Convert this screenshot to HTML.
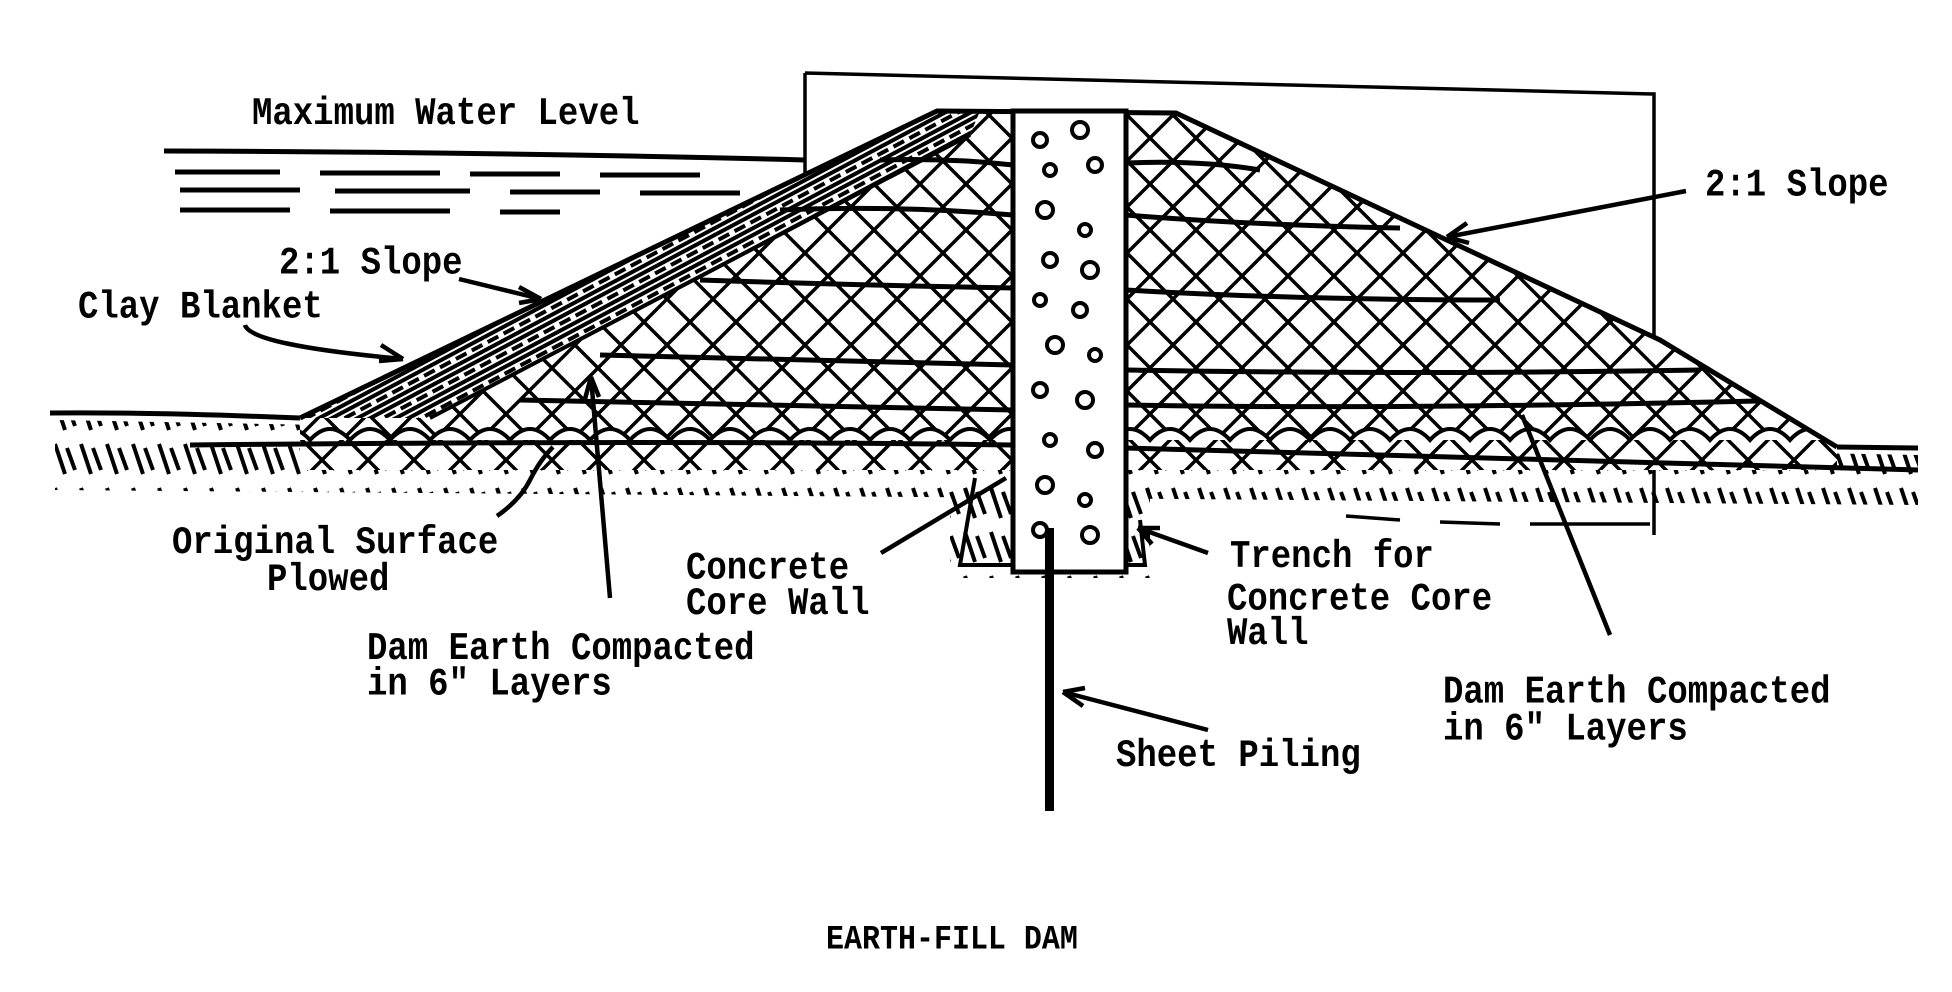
<!DOCTYPE html>
<html><head><meta charset="utf-8"><style>
html,body{margin:0;padding:0;background:#fff}
svg{display:block}
text{font-family:"Liberation Mono","DejaVu Sans Mono",monospace;font-weight:bold;fill:#000}
</style></head><body>
<svg width="1952" height="992" viewBox="0 0 1952 992" xmlns="http://www.w3.org/2000/svg">
<defs>
<pattern id="xh" width="46" height="46" patternUnits="userSpaceOnUse">
<path d="M0 0L46 46M46 0L0 46" stroke="#000" stroke-width="3.5"/>
</pattern>
<pattern id="gh" width="26" height="44" patternUnits="userSpaceOnUse">
<path d="M3 4L13 34M15 8L23 30" stroke="#000" stroke-width="4"/>
</pattern>
<pattern id="cl" width="18" height="18" patternUnits="userSpaceOnUse" patternTransform="rotate(-28)">
<path d="M0 3H18M0 9H12M0 15H18" stroke="#000" stroke-width="4"/>
</pattern>
<clipPath id="dam"><path d="M300 418L937 111L1176 113L1660 340L1837 447L1837 470L300 470Z"/></clipPath>
</defs>
<path d="M805 73L805 330M805 73L1654 94L1654 350M1654 420L1654 535M1346 516L1400 520M1440 522L1500 524M1530 524L1650 524" stroke="#000" stroke-width="3.5" fill="none"/>
<path d="M164 151Q500 152 805 160" stroke="#000" stroke-width="5" fill="none"/>
<g stroke="#000" stroke-width="5">
<path d="M175 172H280M320 173H440M470 174H560M600 175H700"/>
<path d="M180 190H300M335 191H470M510 192H600M640 193H740"/>
<path d="M180 210H290M330 211H450M500 212H560"/>
</g>
<path d="M55 420L1918 455L1918 505L55 490Z" fill="url(#gh)"/>
<rect x="950" y="478" width="200" height="100" fill="url(#gh)"/>
<g clip-path="url(#dam)">
<rect x="300" y="100" width="1540" height="380" fill="#fff"/>
<rect x="300" y="100" width="1540" height="380" fill="url(#xh)"/>
<path d="M300 418L937 111L980 111L970 135L430 418Z" fill="#fff"/>
<path d="M300 418L937 111L980 111L970 135L430 418Z" fill="url(#cl)"/>
<g stroke="#000" stroke-width="5" fill="none">
<path d="M880 160Q950 158 1013 165M1126 163Q1200 160 1260 170"/>
<path d="M780 210Q900 205 1013 215M1126 215Q1250 225 1400 228"/>
<path d="M700 280Q850 285 1013 288M1126 290Q1300 300 1500 300"/>
<path d="M600 355Q800 360 1013 365M1126 370Q1400 375 1700 370"/>
<path d="M520 400Q800 405 1013 410M1126 405Q1400 410 1800 400"/>
</g>
<g stroke="#000" stroke-width="4" fill="#fff">
<path d="M230 440q20-22 40 0q20-22 40 0q20-22 40 0q20-22 40 0q20-22 40 0q20-22 40 0q20-22 40 0q20-22 40 0q20-22 40 0q20-22 40 0q20-22 40 0q20-22 40 0q20-22 40 0q20-22 40 0q20-22 40 0q20-22 40 0q20-22 40 0q20-22 40 0q20-22 40 0q20-22 40 0q20-22 40 0q20-22 40 0q20-22 40 0q20-22 40 0q20-22 40 0q20-22 40 0q20-22 40 0q20-22 40 0q20-22 40 0q20-22 40 0q20-22 40 0q20-22 40 0q20-22 40 0q20-22 40 0q20-22 40 0q20-22 40 0q20-22 40 0q20-22 40 0q20-22 40 0q20-22 40 0q20-22 40 0"/>
</g>
</g>
<path d="M300 418L937 111L1176 113L1660 340L1837 447" stroke="#000" stroke-width="5" fill="none"/>
<path d="M430 418L970 135" stroke="#000" stroke-width="4" fill="none"/>
<path d="M50 413Q150 412 300 418M1837 447L1918 448" stroke="#000" stroke-width="5" fill="none"/>
<path d="M190 445Q700 440 1013 445M1126 448Q1500 460 1918 470" stroke="#000" stroke-width="5" fill="none"/>
<path d="M975 478L960 565L1145 565L1140 520" stroke="#000" stroke-width="4" fill="none"/>
<rect x="1013" y="111" width="113" height="461" fill="#fff" stroke="#000" stroke-width="5"/>
<g stroke="#000" stroke-width="4" fill="none">
<circle cx="1040" cy="140" r="7"/><circle cx="1080" cy="130" r="8"/><circle cx="1050" cy="170" r="6"/><circle cx="1095" cy="165" r="7"/>
<circle cx="1045" cy="210" r="8"/><circle cx="1085" cy="230" r="6"/><circle cx="1050" cy="260" r="7"/><circle cx="1090" cy="270" r="8"/>
<circle cx="1040" cy="300" r="6"/><circle cx="1080" cy="310" r="7"/><circle cx="1055" cy="345" r="8"/><circle cx="1095" cy="355" r="6"/>
<circle cx="1040" cy="390" r="7"/><circle cx="1085" cy="400" r="8"/><circle cx="1050" cy="440" r="6"/><circle cx="1095" cy="450" r="7"/>
<circle cx="1045" cy="485" r="8"/><circle cx="1085" cy="500" r="6"/><circle cx="1040" cy="530" r="7"/><circle cx="1090" cy="535" r="8"/>
</g>
<rect x="1045" y="528" width="9" height="283" fill="#000"/>
<g stroke="#000" stroke-width="4.5" fill="none">
<path d="M1686 191L1447 237"/><path d="M1447 237l20-14M1447 237l22 6"/>
<path d="M459 279L541 299"/><path d="M541 299l-22-12M541 299l-22 4"/>
<path d="M245 325Q250 345 403 359"/><path d="M403 359l-22-14M403 359l-24 2"/>
<path d="M497 516Q520 500 530 480Q540 460 553 447"/>
<path d="M610 598L591 377"/><path d="M591 377l-6 22M591 377l8 20"/>
<path d="M881 553L1006 478"/>
<path d="M1208 553L1138 528"/><path d="M1138 528l14 16M1138 528l22 0"/>
<path d="M1208 730L1063 692"/><path d="M1063 692l20 14M1063 692l22-4"/>
<path d="M1610 635L1522 415"/>
</g>
<g font-size="34" transform="scale(1,1.15)">
<text x="252" y="108">Maximum Water Level</text>
<text x="1705" y="170">2:1 Slope</text>
<text x="279" y="238">2:1 Slope</text>
<text x="78" y="276">Clay Blanket</text>
<text x="172" y="481">Original Surface</text>
<text x="267" y="513">Plowed</text>
<text x="686" y="503">Concrete</text>
<text x="686" y="534">Core Wall</text>
<text x="1230" y="493">Trench for</text>
<text x="1227" y="530">Concrete Core</text>
<text x="1227" y="560">Wall</text>
<text x="367" y="573">Dam Earth Compacted</text>
<text x="367" y="604">in 6" Layers</text>
<text x="1443" y="611">Dam Earth Compacted</text>
<text x="1443" y="643">in 6" Layers</text>
<text x="1116" y="666">Sheet Piling</text>
</g>
<text x="826" y="825" font-size="30" transform="scale(1,1.15)">EARTH-FILL DAM</text>
</svg>
</body></html>
